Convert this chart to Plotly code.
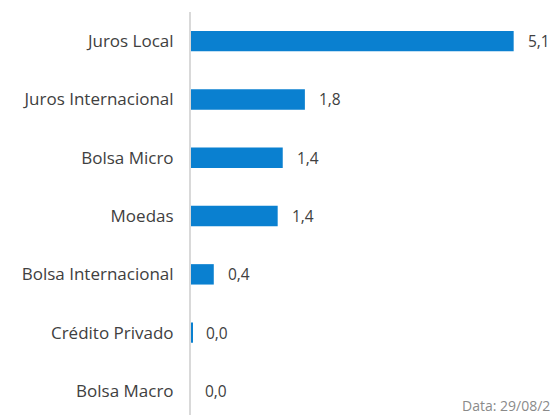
import plotly.graph_objects as go

categories = ["Juros Local", "Juros Internacional", "Bolsa Micro", "Moedas",
              "Bolsa Internacional", "Crédito Privado", "Bolsa Macro"]
values = [5.1, 1.8, 1.45, 1.37, 0.36, 0.02, 0.0]
labels = ["5,1", "1,8", "1,4", "1,4", "0,4", "0,0", "0,0"]
date_text = "Data: 29/08/2024"

FONT = "Open Sans"
TXT = "#404040"
L, R, T, B, W, H = 183, 38, 4, 0, 550, 407
PW, PH = W - L - R, H - T - B
STEP = 58.3

fig = go.Figure()
fig.add_trace(go.Bar(
    x=values, y=categories, orientation="h",
    marker=dict(color="#0A80D0", line=dict(width=0)),
    width=0.35, hoverinfo="skip",
))
for v, c, t in zip(values, categories, labels):
    fig.add_annotation(x=v, y=c, text=t, showarrow=False, xanchor="left",
                       xshift=12, font=dict(family=FONT, size=15.5, color=TXT))
fig.add_annotation(x=(452 - L) / PW, y=(415 - 397 - 8) / PH, xref="paper", yref="paper",
                   text=date_text, showarrow=False, xanchor="left", yanchor="middle",
                   font=dict(family=FONT, size=14, color="#8a8a8a"))
fig.update_layout(
    width=W, height=H,
    margin=dict(l=L, r=R, t=T, b=B),
    plot_bgcolor="white", paper_bgcolor="white",
    showlegend=False,
    font=dict(family=FONT, size=16, color=TXT),
    xaxis=dict(range=[0, 5.2], visible=False, fixedrange=True),
    yaxis=dict(range=[PH / STEP - 0.5, -0.5], showline=True, linecolor="#d9d9d9",
               linewidth=2, ticks="", ticklabelstandoff=12,
               tickfont=dict(family=FONT, size=17, color=TXT)),
)
fig.write_html("out.html")
